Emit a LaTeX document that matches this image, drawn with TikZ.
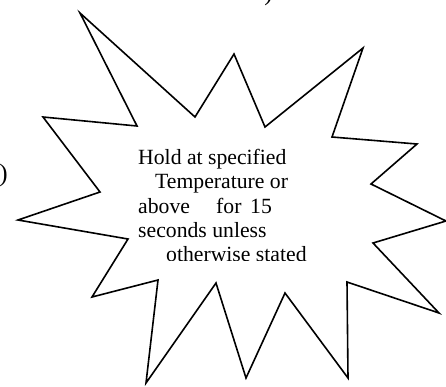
\documentclass[tikz,border=0pt]{standalone}
\usepackage{fontspec}
\setmainfont{Liberation Serif}
\begin{document}
\begin{tikzpicture}[x=1pt,y=-1pt,
  starline/.style={draw=black,line width=1.6pt,line join=miter,fill=white},
  txt/.style={anchor=base west,inner sep=0pt,font=\fontsize{21.7}{24}\selectfont},
  paren/.style={anchor=base east,inner sep=0pt,font=\fontsize{25}{28}\selectfont}]
\useasboundingbox (0,0) rectangle (446,386);
% partial parentheses cut by the page edge
\node[paren] (p1) at (8,181) {)};
\node[paren] (p2) at (273,0) {)};
% star burst
\draw[starline] (80,13) -- (137,126) -- (43,117) -- (100,192) -- (18,220)
  -- (128,239) -- (92,297) -- (158,280) -- (146,383) -- (216,283)
  -- (246,378) -- (285,293) -- (348,378) -- (347,282) -- (439,313)
  -- (373,243) -- (446,221) -- (371,184) -- (417,144) -- (332,137)
  -- (363,48) -- (265,127) -- (234,54) -- (195,117) -- cycle;
% text
\node[txt] (l1) at (138,164) {Hold at specified};
\node[txt] (l2) at (155,188.5) {Temperature or};
\node[txt] (l3a) at (138,213) {above};
\node[txt] (l3b) at (216,213) {for};
\node[txt] (l3c) at (250,213) {15};
\node[txt] (l4) at (138,237.3) {seconds unless};
\begin{scope}
  \clip (0,0) rectangle (446,260.3);
  \node[txt] (l5) at (166,261.6) {otherwise stated};
\end{scope}
\end{tikzpicture}
\end{document}
